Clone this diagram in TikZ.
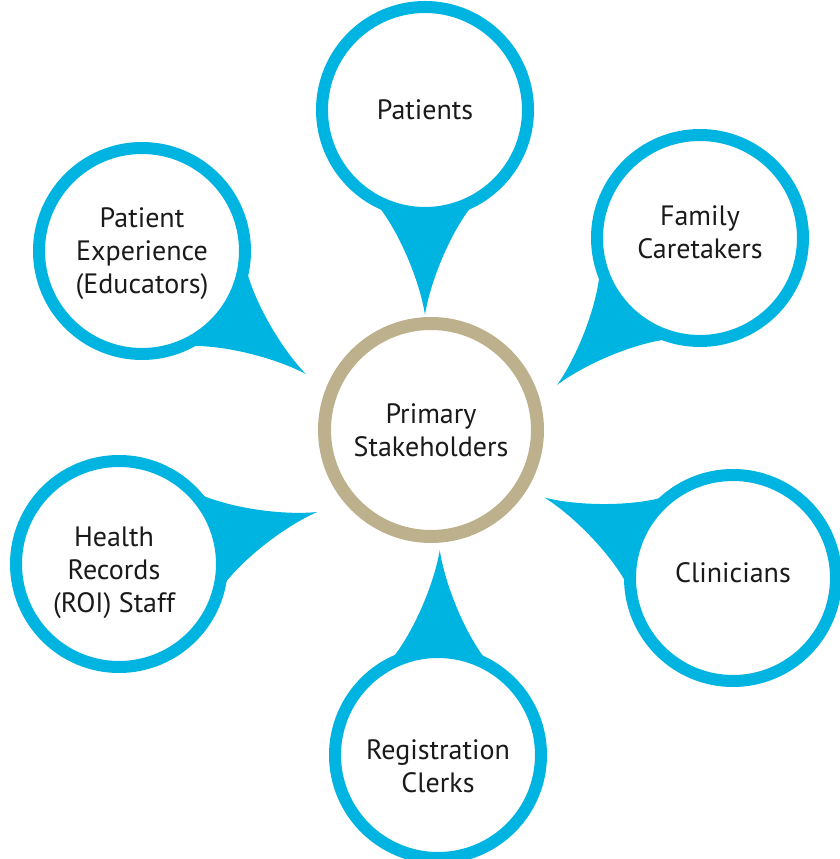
\documentclass[tikz,border=0pt]{standalone}
\usepackage{fontspec}
\setmainfont{PT Sans}
\usetikzlibrary{backgrounds}

\definecolor{bubbleblue}{HTML}{00B4E1}
\definecolor{hubtan}{HTML}{BDB08C}
\definecolor{labelgray}{HTML}{1A1A1A}

\tikzset{
  bubble/.style={circle, draw=bubbleblue, line width=12pt, fill=white,
    minimum size=206pt, inner sep=0pt},
  hub/.style={bubble, draw=hubtan, line width=13pt, minimum size=213pt},
  bubbletext/.style={align=center, text=labelgray, inner sep=0pt,
    font=\fontsize{28}{33}\selectfont},
}

% tail of a bubble: #1 = bubble name, #2 = direction of the tip
\newcommand{\bubbletail}[2]{
  \fill[bubbleblue, shift={(#1.center)}, rotate=#2]
    (92,50) .. controls (120,26) and (172,5) .. (205,0)
    .. controls (172,-5) and (120,-26) .. (92,-50) -- cycle;
}

\begin{document}
\begin{tikzpicture}[x=1pt, y=1pt]
    \useasboundingbox (0,0) rectangle (839,859);

    % Draw the hub in the middle
    \node[hub] (hub) at (431,429) {};
    \node[bubbletext] (hub-text) at (hub) {Primary\\Stakeholders};

    % Add the stakeholder bubbles around it
    \node[bubble] (patients) at (425,749) {};    % Top
    \node[bubble] (experience) at (142,608) {};  % Upper left
    \node[bubble] (family) at (700,621) {};      % Upper right
    \node[bubble] (clinicians) at (733,281) {};  % Lower right
    \node[bubble] (records) at (119,295) {};     % Lower left
    \node[bubble] (clerks) at (438,104) {};      % Bottom

    % Their labels, a little off centre in some of them
    \node[bubbletext] (patients-text) at (patients) {Patients};
    \node[bubbletext] (experience-text) at ([yshift=-3pt]experience.center) {Patient\\Experience\\(Educators)};
    \node[bubbletext] (family-text) at ([yshift=6pt]family.center) {Family\\Caretakers};
    \node[bubbletext] (clinicians-text) at ([yshift=5pt]clinicians.center) {Clinicians};
    \node[bubbletext] (records-text) at ([shift={(-5pt,-9pt)}]records.center) {Health\\Records\\(ROI) Staff};
    \node[bubbletext] (clerks-text) at ([yshift=-11pt]clerks.center) {Registration\\Clerks};

    % Tails pointing at the hub, behind the bubbles
    \begin{pgfonlayer}{background}
        \bubbletail{patients}{-90}
        \bubbletail{experience}{-36.9}
        \bubbletail{family}{-134.2}
        \bubbletail{clinicians}{156.9}
        \bubbletail{records}{14.7}
        \bubbletail{clerks}{89.5}
    \end{pgfonlayer}
\end{tikzpicture}
\end{document}
